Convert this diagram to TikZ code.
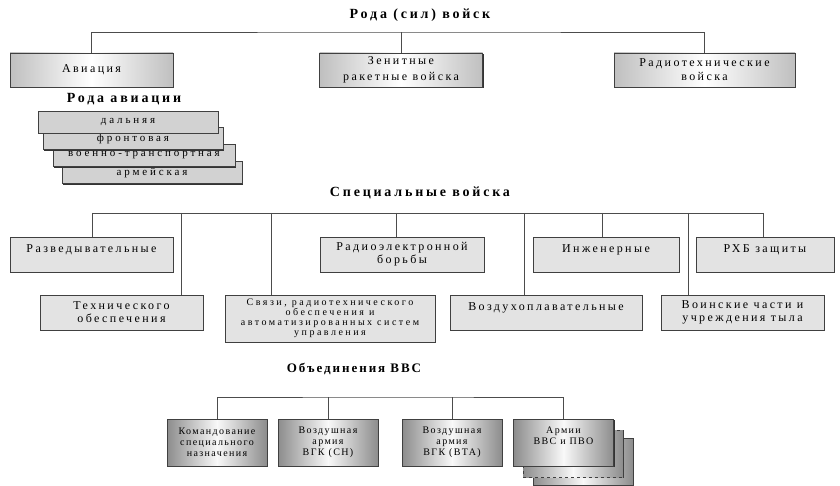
\documentclass[tikz,border=0pt]{standalone}
\usepackage{fontspec}
\setmainfont{Liberation Serif}[LetterSpace=20]
\usetikzlibrary{shadows}

\pgfdeclarehorizontalshading{lightfade}{100bp}{color(0bp)=(gray!50); color(25bp)=(gray!50); color(50bp)=(white); color(75bp)=(gray!50); color(100bp)=(gray!50)}
\pgfdeclarehorizontalshading{darkfade}{100bp}{color(0bp)=(gray!90); color(25bp)=(gray!90); color(50bp)=(gray!5); color(75bp)=(gray!90); color(100bp)=(gray!90)}

\tikzset{
  link/.style={draw=black!70, line width=0.8pt},
  boxshadow/.style={drop shadow={shadow xshift=1.3pt, shadow yshift=-1.3pt, fill=black!80, opacity=1}},
  title/.style={font=\fontsize{14}{16}\selectfont\bfseries},
  unit/.style={draw=black!75, line width=0.6pt, boxshadow, shade, shading=lightfade,
    minimum height=34pt, align=center, inner sep=1pt, font=\fontsize{12}{14}\selectfont},
  kind/.style={draw=black!75, line width=0.6pt, boxshadow, fill=gray!35, minimum width=180pt, minimum height=22pt,
    inner sep=1pt, font=\fontsize{11}{12}\selectfont\addfontfeature{LetterSpace=26}},
  spec/.style={draw=black!75, line width=0.6pt, boxshadow, fill=gray!22, minimum height=35pt, align=center,
    inner sep=1pt, font=\fontsize{12}{13}\selectfont},
  hightext/.style={text depth=11pt},
  assocbox/.style={unit, shading=darkfade, minimum width=100pt, minimum height=47pt,
    font=\fontsize{10}{11}\selectfont\addfontfeature{LetterSpace=14}},
}

\begin{document}
\begin{tikzpicture}[x=1pt, y=-1pt]
\useasboundingbox (0,0) rectangle (840,486);

% рода войск
\node[title] (branches) at (420,15) {Рода (сил) войск};
\node[unit, minimum width=163pt] (avia) at (91.5,70) {Авиация};
\node[unit, minimum width=163pt, font=\fontsize{12}{16}\selectfont] (zrv) at (401,70) {Зенитные\\ракетные войска};
\node[unit, minimum width=181pt] (rtv) at (704.5,70) {Радиотехнические\\войска};
\coordinate (branches bus) at (420,32);
\draw[link] (avia.north) |- (branches bus) -| (rtv.north);
\draw[link] (zrv.north) -- (zrv.north |- branches bus);

% рода авиации
\node[title] (kinds) at (124,99) {Рода авиации};
\node[kind] (army kind) at (152,172.5) {армейская};
\node[kind, minimum width=182pt] (vta kind) at (144,155.5) {военно-транспортная};
\node[kind] (front kind) at (133,138.5) {фронтовая};
\node[kind] (long kind) at (128,122) {дальняя};

% специальные войска
\node[title] (special) at (420,193) {Специальные войска};
\node[spec, hightext, minimum width=163pt] (razv) at (91.5,254.5) {Разведывательные};
\node[spec, minimum width=164pt] (reb) at (402,254.5) {Радиоэлектронной\\борьбы};
\node[spec, hightext, minimum width=146pt] (ing) at (606,254.5) {Инженерные};
\node[spec, hightext, minimum width=138pt] (rhb) at (765,254.5) {РХБ защиты};
\node[spec, minimum width=163pt] (tech) at (121.5,312.5) {Технического\\обеспечения};
\node[spec, minimum width=210pt, minimum height=47pt, font=\fontsize{10}{10}\selectfont\addfontfeature{LetterSpace=25}] (svyaz) at (330,318.5)
  {Связи, радиотехнического\\обеспечения и\\автоматизированных систем\\управления};
\node[spec, hightext, minimum width=192pt] (vozd) at (546,312.5) {Воздухоплавательные};
\node[spec, minimum width=163pt] (voin) at (742.5,312.5) {Воинские части и\\учреждения тыла};
\coordinate (special bus west) at (92,213);
\coordinate (special bus east) at (763,213);
\draw[link] (special bus west) -- (special bus east);
\foreach \x/\n in {92/razv,181/tech,271/svyaz,396/reb,524/vozd,602/ing,688/voin,763/rhb}{
  \coordinate (drop) at (\x,213);
  \draw[link] (drop) -- (drop |- \n.north);
}

% объединения ВВС
\node[title, font=\fontsize{13}{15}\selectfont\bfseries\addfontfeature{LetterSpace=15}] (unions) at (354,369) {Объединения ВВС};
\node[assocbox] (army back) at (583,461.5) {};
\node[assocbox, dashed] (army mid) at (573,453.5) {};
\node[assocbox] (army) at (563.5,442.5) {Армии\\ВВС и ПВО\\\strut};
\node[assocbox] (ksn) at (217,442.5) {Командование\\специального\\назначения};
\node[assocbox] (vasn) at (328,442.5) {Воздушная\\армия\\ВГК (СН)};
\node[assocbox] (vavta) at (452,442.5) {Воздушная\\армия\\ВГК (ВТА)};
\coordinate (unions bus) at (386,397);
\draw[link] (ksn.north) |- (unions bus) -| (army.north);
\draw[link] (vasn.north) -- (vasn.north |- unions bus);
\draw[link] (vavta.north) -- (vavta.north |- unions bus);
\end{tikzpicture}
\end{document}
